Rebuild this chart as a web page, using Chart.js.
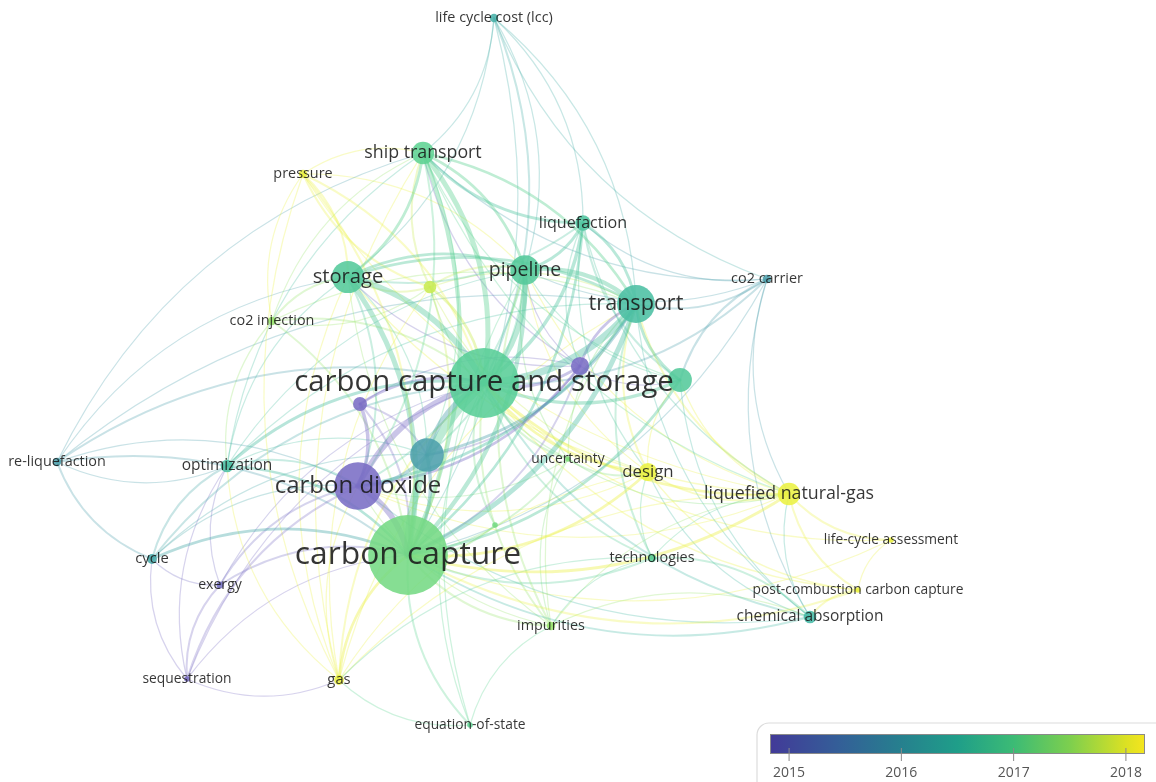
<!DOCTYPE html>
<html>
<head>
<meta charset="utf-8">
<script src="https://cdn.jsdelivr.net/npm/chart.js@4.4.1/dist/chart.umd.min.js"></script>
<style>
  html, body { margin: 0; padding: 0; background: #fff; }
  #wrap { position: relative; width: 1156px; height: 782px; }
</style>
</head>
<body>
<div id="wrap"><canvas id="net"></canvas></div>
<script>
// keyword network (overlay by average publication year)
const keywords = [
  'carbon capture and storage', 'carbon capture', 'carbon dioxide', '', 'transport',
  'pipeline', 'storage', 'ship transport', 'liquefaction', 'co2 carrier',
  'life cycle cost (lcc)', 'pressure', 'co2 injection', '', '',
  '', '', 're-liquefaction', 'optimization', 'uncertainty',
  'design', 'liquefied natural-gas', 'life-cycle assessment', 'post-combustion carbon capture', 'chemical absorption',
  'technologies', 'impurities', 'cycle', 'exergy', 'sequestration',
  'gas', 'equation-of-state', ''
];
const posX = [
  0.04, -0.72, -1.22, -0.53, 1.56,
  0.45, -1.32, -0.57, 1.03, 2.87,
  0.14, -1.77, -2.08, -0.50, 1.00,
  2.00, -1.20, -4.23, -2.53, 0.88,
  1.68, 3.09, 4.11, 3.78, 3.30,
  1.72, 0.71, -3.28, -2.60, -2.93,
  -1.41, -0.10, 0.15
];
const posY = [
  0.27, -1.45, -0.76, -0.45, 1.06,
  1.40, 1.33, 2.57, 1.87, 1.31,
  3.92, 2.36, 0.89, 1.23, 0.44,
  0.30, 0.06, -0.52, -0.56, -0.49,
  -0.62, -0.84, -1.30, -1.80, -2.07,
  -1.48, -2.16, -1.49, -1.75, -2.69,
  -2.70, -3.15, -1.15
];
const occurrences = [
  50, 57, 34, 24, 27,
  21, 23, 16, 11, 6,
  6, 6, 6, 9, 13,
  17, 10, 6, 9, 4,
  13, 16, 4, 4, 9,
  6, 6, 7, 5, 4,
  7, 4, 4
];
const avgYear = [
  2016.9, 2017.2, 2015.1, 2016.0, 2016.6,
  2016.8, 2016.8, 2017.0, 2016.7, 2016.0,
  2016.3, 2018.0, 2017.5, 2017.8, 2015.1,
  2016.8, 2015.1, 2016.0, 2016.6, 2017.3,
  2018.0, 2018.0, 2018.0, 2018.0, 2016.5,
  2016.9, 2017.5, 2016.2, 2015.2, 2015.1,
  2018.0, 2017.0, 2017.2
];
// [from, to, link strength]
const links = [
  [0,1,10],[0,2,7],[0,3,6],[0,4,9],[0,5,7],[0,6,7],[0,7,6],[0,8,4],[0,9,2],[0,10,2],
  [0,11,2],[0,12,2],[0,13,3],[0,14,3],[0,15,4],[0,16,3],[0,17,2],[0,18,3],[0,19,2],[0,20,3],
  [0,21,3],[0,22,1],[0,23,1],[0,24,2],[0,25,2],[0,26,2],[0,27,2],[0,28,1],[0,29,1],[0,30,2],
  [0,31,1],[0,32,2],
  [1,2,7],[1,3,4],[1,4,6],[1,5,5],[1,6,6],[1,7,5],[1,8,3],[1,9,1],[1,10,1],[1,11,2],
  [1,12,2],[1,13,2],[1,14,2],[1,15,3],[1,16,2],[1,17,2],[1,18,3],[1,19,2],[1,20,3],[1,21,3],
  [1,22,1],[1,23,2],[1,24,2],[1,25,2],[1,26,2],[1,27,3],[1,28,2],[1,29,1],[1,30,3],[1,31,2],
  [1,32,2],
  [2,3,4],[2,4,3],[2,5,2],[2,6,2],[2,7,2],[2,14,3],[2,16,4],[2,18,2],[2,27,1],[2,28,2],
  [2,29,2],[2,30,1],[2,26,1],[2,17,1],[2,19,1],[2,20,1],[2,21,1],[2,24,1],
  [3,4,3],[3,5,2],[3,14,2],[3,16,2],[3,6,1],[3,7,1],[3,18,1],[3,27,1],
  [4,5,5],[4,6,3],[4,7,3],[4,8,3],[4,9,2],[4,14,3],[4,15,3],[4,19,1],[4,20,2],[4,21,2],
  [4,24,1],[4,25,2],[4,26,1],[4,10,1],[4,18,1],[4,17,1],[4,13,1],[4,30,1],[4,12,1],
  [5,6,3],[5,7,3],[5,8,3],[5,13,2],[5,14,1],[5,20,1],[5,26,2],[5,31,1],[5,10,1],[5,15,1],
  [5,9,1],[5,18,1],[5,19,1],[5,21,1],[5,11,1],
  [6,7,3],[6,8,2],[6,11,2],[6,12,2],[6,13,2],[6,18,1],[6,30,1],[6,10,1],[6,14,1],[6,21,1],
  [6,26,1],[6,17,1],
  [7,8,3],[7,11,1],[7,13,2],[7,21,1],[7,9,1],[7,10,1],[7,18,1],[7,30,1],[7,17,1],[7,14,1],
  [7,15,1],[7,12,1],
  [8,9,1],[8,15,2],[8,21,1],[8,10,1],[8,14,1],[8,20,1],
  [9,15,2],[9,21,1],[9,24,1],[10,9,1],
  [11,12,1],[11,13,2],[11,30,1],[11,21,1],
  [12,13,1],[12,18,1],
  [13,19,1],[13,20,1],[13,30,1],
  [14,15,1],[14,16,1],
  [15,20,1],[15,21,1],[15,24,1],
  [17,18,1],[17,27,2],
  [18,27,2],[18,28,1],[18,29,1],[18,30,1],
  [19,20,2],[19,21,1],[19,26,1],
  [20,21,2],[20,25,1],[20,23,1],[20,30,1],[20,24,1],
  [21,22,2],[21,23,2],[21,24,1],[21,25,1],[21,30,1],[21,26,1],
  [22,23,1],[23,24,2],[24,25,2],[24,26,1],
  [25,26,1],[25,30,1],
  [27,28,1],[27,29,1],[28,29,2],[26,31,1],[30,31,1],[29,30,1]
];
const yearTicks = [2015, 2016, 2017, 2018];
const yearMin = 2014.83, yearMax = 2018.17;

// viridis-like colour map
const STOPS = [
  [0.00, [66,58,152]],
  [0.18, [52,94,152]],
  [0.35, [38,128,142]],
  [0.50, [31,158,137]],
  [0.65, [60,187,117]],
  [0.80, [125,207,78]],
  [0.95, [220,225,35]],
  [1.00, [245,229,30]]
];
function mapColor(t){
  t = Math.max(0, Math.min(1, t));
  for (let i=1;i<STOPS.length;i++){
    if (t <= STOPS[i][0]){
      const [t0,c0] = STOPS[i-1], [t1,c1] = STOPS[i];
      const f = (t-t0)/(t1-t0);
      return c0.map((v,k)=>Math.round(v+(c1[k]-v)*f));
    }
  }
  return STOPS[STOPS.length-1][1];
}
function yearRgb(yr){ return mapColor((yr-yearMin)/(yearMax-yearMin)); }
function rgba(c,a){ return `rgba(${c[0]},${c[1]},${c[2]},${a})`; }
function nodeRgb(yr){
  // nodes a bit lighter and more saturated than the colour bar
  const c = yearRgb(yr).map(v=>v+(255-v)*0.22);
  // older nodes read more violet in the picture
  if (yr < 2015.6) { c[0] += 22; c[2] += 14; }
  const m = (c[0]+c[1]+c[2])/3;
  return c.map(v=>Math.max(0, Math.min(255, Math.round(m + (v-m)*1.18))));
}

const linkPlugin = {
  id: 'links',
  beforeDatasetsDraw(chart){
    const {ctx, scales:{x, y}} = chart;
    ctx.save();
    ctx.lineCap = 'round';
    links.slice().sort((a,b)=>a[2]-b[2]).forEach(([a,b,s])=>{
      const x1 = x.getPixelForValue(posX[a]), y1 = y.getPixelForValue(posY[a]);
      const x2 = x.getPixelForValue(posX[b]), y2 = y.getPixelForValue(posY[b]);
      const dx = x2-x1, dy = y2-y1;
      const cx = (x1+x2)/2 - dy*0.22, cy = (y1+y2)/2 + dx*0.22;
      const c = occurrences[a] <= occurrences[b] ? a : b;
      ctx.strokeStyle = rgba(nodeRgb(avgYear[c]), s > 2 ? 0.4 : 0.3);
      ctx.lineWidth = 0.5 + s*0.75;
      ctx.beginPath();
      ctx.moveTo(x1,y1);
      ctx.quadraticCurveTo(cx,cy,x2,y2);
      ctx.stroke();
    });
    ctx.restore();
  }
};

const labelPlugin = {
  id: 'labels',
  afterDatasetsDraw(chart){
    const {ctx, scales:{x, y}} = chart;
    ctx.save();
    ctx.textAlign = 'center';
    ctx.textBaseline = 'middle';
    ctx.fillStyle = 'rgba(25,25,25,0.88)';
    keywords.forEach((k,i)=>{
      if (!k) return;
      const fs = 12.4 + occurrences[i]*0.34;
      ctx.font = `${fs.toFixed(1)}px 'Open Sans', 'Noto Sans', sans-serif`;
      ctx.fillText(k, x.getPixelForValue(posX[i]), y.getPixelForValue(posY[i]));
    });
    ctx.restore();
  }
};

const colorBarPlugin = {
  id: 'colorBar',
  afterDraw(chart){
    const ctx = chart.ctx;
    const bx = 770, bw = 375, by = 734, bh = 20;
    ctx.save();
    // legend box
    ctx.beginPath();
    ctx.roundRect(757, 723, 430, 90, 12);
    ctx.fillStyle = '#fff';
    ctx.fill();
    ctx.strokeStyle = '#dcdcdc';
    ctx.lineWidth = 1.2;
    ctx.stroke();
    // gradient
    const g = ctx.createLinearGradient(bx,0,bx+bw,0);
    STOPS.forEach(([t,c])=>g.addColorStop(t, rgba(c,1)));
    ctx.fillStyle = g;
    ctx.fillRect(bx,by,bw,bh);
    ctx.strokeStyle = '#8a8a8a';
    ctx.lineWidth = 1;
    ctx.strokeRect(bx+0.5,by+0.5,bw-1,bh-1);
    // ticks
    ctx.fillStyle = '#555';
    ctx.font = "14px 'Open Sans', sans-serif";
    ctx.textAlign = 'center';
    ctx.textBaseline = 'middle';
    yearTicks.forEach(yr=>{
      const px = bx + (yr-yearMin)/(yearMax-yearMin)*bw;
      ctx.strokeStyle = '#8a8a8a';
      ctx.beginPath();
      ctx.moveTo(px, by+bh-6);
      ctx.lineTo(px, by+bh+7);
      ctx.stroke();
      ctx.fillText(String(yr), px, 773);
    });
    ctx.restore();
  }
};

new Chart(document.getElementById('net').getContext('2d'), {
  type: 'bubble',
  data: {
    datasets: [{
      data: posX.map((v,i)=>({x: v, y: posY[i], r: occurrences[i]*0.7})),
      backgroundColor: avgYear.map(yr=>rgba(nodeRgb(yr),0.88)),
      borderWidth: 0,
      hoverRadius: 0,
      clip: false
    }]
  },
  options: {
    responsive: true, maintainAspectRatio: false,
    animation: false,
    events: [],
    layout: {padding: 0, autoPadding: false},
    plugins: {legend: {display: false}, tooltip: {enabled: false}},
    scales: {
      x: {type: 'linear', min: -4.8, max: 6.76, display: false},
      y: {type: 'linear', min: -3.72, max: 4.10, display: false}
    }
  },
  plugins: [linkPlugin, labelPlugin, colorBarPlugin]
});
</script>
</body>
</html>
